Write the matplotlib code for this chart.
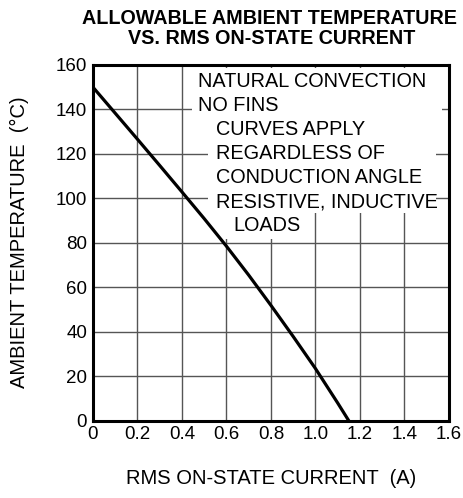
import matplotlib
matplotlib.use("Agg")
from matplotlib import pyplot as plt
from matplotlib.patches import Rectangle

plt.rcParams["font.family"] = ["Liberation Sans", "DejaVu Sans"]

# curve
current = [0, 0.1, 0.2, 0.3, 0.4, 0.5, 0.6, 0.7, 0.8, 0.9, 1.0, 1.1, 1.15]
temperature = [150, 138.3, 126.6, 114.8, 102.9, 90.9, 78.5, 65.5, 51.9, 37.9, 23.5, 8.0, 0]

xticks = [0, 0.2, 0.4, 0.6, 0.8, 1.0, 1.2, 1.4, 1.6]
xticklabels = ["0", "0.2", "0.4", "0.6", "0.8", "1.0", "1.2", "1.4", "1.6"]
yticks = [0, 20, 40, 60, 80, 100, 120, 140, 160]

notes = ["NATURAL CONVECTION", "NO FINS", "CURVES APPLY", "REGARDLESS OF",
         "CONDUCTION ANGLE", "RESISTIVE, INDUCTIVE", "LOADS"]
note_x = [0.474, 0.474, 0.554, 0.554, 0.554, 0.554, 0.631]
note_y = [152.4, 141.6, 130.8, 120.0, 109.2, 98.4, 87.6]

fig = plt.figure(figsize=(4.64, 4.98), dpi=100)
ax = fig.add_axes([0.2, 0.155, 0.7677, 0.715])

ax.set_xlim(0, 1.6)
ax.set_ylim(0, 160)
ax.set_xticks(xticks)
ax.set_xticklabels(xticklabels)
ax.set_yticks(yticks)
ax.tick_params(length=0, labelsize=13.5, pad=4)
ax.grid(True, color="#555555", linewidth=1.0)
ax.set_axisbelow(True)
for s in ax.spines.values():
    s.set_linewidth(2.2)

# white areas behind the notes (grid broken there)
ax.add_patch(Rectangle((0.446, 136.1), 1.568 - 0.446, 158.6 - 136.1,
                       facecolor="white", edgecolor="none", zorder=1.5))
ax.add_patch(Rectangle((0.518, 93.4), 1.541 - 0.518, 136.1 - 93.4,
                       facecolor="white", edgecolor="none", zorder=1.5))
ax.add_patch(Rectangle((0.549, 81.5), 0.931 - 0.549, 93.4 - 81.5,
                       facecolor="white", edgecolor="none", zorder=1.5))

ax.plot(current, temperature, color="black", linewidth=2.3, zorder=3)

for t, x, y in zip(notes, note_x, note_y):
    ax.text(x, y, t, fontsize=14.3, ha="left", va="center", zorder=4)

fig.text(269 / 464, 1 - 18.5 / 498, "ALLOWABLE AMBIENT TEMPERATURE",
         fontsize=14.2, fontweight="bold", ha="center", va="center")
fig.text(272 / 464, 1 - 39 / 498, "VS. RMS ON-STATE CURRENT",
         fontsize=14.2, fontweight="bold", ha="center", va="center")
fig.text(19 / 464, 1 - 242 / 498, "AMBIENT TEMPERATURE  (\u00b0C)",
         fontsize=14.5, rotation=90, ha="center", va="center")
fig.text(271 / 464, 1 - 478 / 498, "RMS ON-STATE CURRENT  (A)",
         fontsize=14.5, ha="center", va="center")

fig.savefig("out.png", dpi=100)
